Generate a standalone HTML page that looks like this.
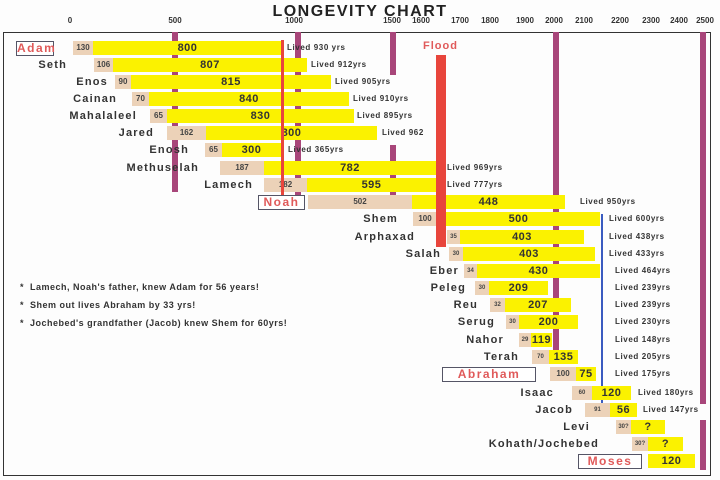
<!DOCTYPE html>
<html><head><style>
body{margin:0;background:#fff;}
#c{position:relative;width:720px;height:480px;overflow:hidden;font-family:"Liberation Sans",sans-serif;background:#fdfdfd;}
.a{position:absolute;}
.t{position:absolute;height:14px;background:#ecd2b8;font-size:8px;font-weight:bold;color:#444;line-height:14px;text-align:center;}
.y{position:absolute;height:14px;background:#fbf200;font-size:11px;font-weight:bold;color:#333;line-height:14px;text-align:center;letter-spacing:.5px;}
.n{position:absolute;font-size:11px;font-weight:bold;color:#333;letter-spacing:1.2px;text-align:right;width:200px;line-height:14px;}
.l{position:absolute;font-size:8px;font-weight:bold;color:#333;letter-spacing:.6px;line-height:14px;white-space:nowrap;}
.v{position:absolute;background:#a8467a;width:6px;}
.x{position:absolute;top:16px;font-size:8px;font-weight:bold;color:#333;transform:translateX(-50%);}
.b{position:absolute;border:1.5px solid #556;height:13px;color:#e05a5a;font-weight:bold;font-size:12px;letter-spacing:1.5px;line-height:13px;text-align:center;background:#fff;}
.nt{position:absolute;left:20px;font-size:9px;font-weight:bold;color:#333;letter-spacing:.5px;}
</style></head><body><div id="c">
<div class="a" style="left:0;top:3px;width:720px;text-align:center;font-size:16px;font-weight:bold;letter-spacing:1.5px;color:#222;">LONGEVITY CHART</div>
<div class="x" style="left:70px">0</div><div class="x" style="left:175px">500</div><div class="x" style="left:294px">1000</div><div class="x" style="left:392px">1500</div><div class="x" style="left:421px">1600</div><div class="x" style="left:460px">1700</div><div class="x" style="left:490px">1800</div><div class="x" style="left:525px">1900</div><div class="x" style="left:554px">2000</div><div class="x" style="left:584px">2100</div><div class="x" style="left:620px">2200</div><div class="x" style="left:651px">2300</div><div class="x" style="left:679px">2400</div><div class="x" style="left:705px">2500</div>
<div class="a" style="left:3px;top:32px;width:706px;height:442px;border:1.5px solid #333;"></div>
<div class="v" style="left:172px;top:32px;height:160px"></div>
<div class="v" style="left:295px;top:32px;height:165px"></div>
<div class="v" style="left:390px;top:32px;height:43px"></div>
<div class="v" style="left:390px;top:145px;height:55px"></div>
<div class="v" style="left:553px;top:32px;height:325px"></div>
<div class="v" style="left:700px;top:32px;height:372px"></div>
<div class="v" style="left:700px;top:420px;height:50px"></div>
<div class="a" style="left:601px;top:214px;width:2px;height:192px;background:#3a5bc0"></div>
<div class="a" style="left:423px;top:40px;font-size:11px;font-weight:bold;color:#e05a5a;letter-spacing:1px">Flood</div>

<div class="b" style="left:16px;top:41px;width:36px">Adam</div><div class="t" style="left:73px;top:41px;width:20px">130</div><div class="y" style="left:93px;top:41px;width:189px">800</div><div class="l" style="left:287px;top:41px">Lived 930 yrs</div>
<div class="n" style="left:-133px;top:58px">Seth</div><div class="t" style="left:94px;top:58px;width:19px">106</div><div class="y" style="left:113px;top:58px;width:194px">807</div><div class="l" style="left:311px;top:58px">Lived 912yrs</div>
<div class="n" style="left:-92px;top:75px">Enos</div><div class="t" style="left:115px;top:75px;width:16px">90</div><div class="y" style="left:131px;top:75px;width:200px">815</div><div class="l" style="left:335px;top:75px">Lived 905yrs</div>
<div class="n" style="left:-83px;top:92px">Cainan</div><div class="t" style="left:132px;top:92px;width:17px">70</div><div class="y" style="left:149px;top:92px;width:200px">840</div><div class="l" style="left:353px;top:92px">Lived 910yrs</div>
<div class="n" style="left:-63px;top:109px">Mahalaleel</div><div class="t" style="left:150px;top:109px;width:17px">65</div><div class="y" style="left:167px;top:109px;width:187px">830</div><div class="l" style="left:357px;top:109px">Lived 895yrs</div>
<div class="n" style="left:-46px;top:126px">Jared</div><div class="t" style="left:167px;top:126px;width:39px">162</div><div class="y" style="left:206px;top:126px;width:171px">800</div><div class="l" style="left:382px;top:126px">Lived 962</div>
<div class="n" style="left:-11px;top:143px">Enosh</div><div class="t" style="left:205px;top:143px;width:17px">65</div><div class="y" style="left:222px;top:143px;width:59px">300</div><div class="l" style="left:288px;top:143px">Lived 365yrs</div>
<div class="n" style="left:-1px;top:161px">Methuselah</div><div class="t" style="left:220px;top:161px;width:44px">187</div><div class="y" style="left:264px;top:161px;width:172px">782</div><div class="l" style="left:447px;top:161px">Lived 969yrs</div>
<div class="n" style="left:53px;top:178px">Lamech</div><div class="t" style="left:264px;top:178px;width:43px">182</div><div class="y" style="left:307px;top:178px;width:129px">595</div><div class="l" style="left:447px;top:178px">Lived 777yrs</div>
<div class="b" style="left:258px;top:195px;width:45px">Noah</div><div class="t" style="left:308px;top:195px;width:104px">502</div><div class="y" style="left:412px;top:195px;width:153px">448</div><div class="l" style="left:580px;top:195px">Lived 950yrs</div>
<div class="n" style="left:198px;top:212px">Shem</div><div class="t" style="left:413px;top:212px;width:24px">100</div><div class="y" style="left:437px;top:212px;width:163px">500</div><div class="l" style="left:609px;top:212px">Lived 600yrs</div>
<div class="n" style="left:215px;top:230px">Arphaxad</div><div class="t" style="left:447px;top:230px;width:13px;font-size:6px">35</div><div class="y" style="left:460px;top:230px;width:124px">403</div><div class="l" style="left:609px;top:230px">Lived 438yrs</div>
<div class="n" style="left:241px;top:247px">Salah</div><div class="t" style="left:449px;top:247px;width:14px;font-size:6px">30</div><div class="y" style="left:463px;top:247px;width:132px">403</div><div class="l" style="left:609px;top:247px">Lived 433yrs</div>
<div class="n" style="left:259px;top:264px">Eber</div><div class="t" style="left:464px;top:264px;width:13px;font-size:6px">34</div><div class="y" style="left:477px;top:264px;width:123px">430</div><div class="l" style="left:615px;top:264px">Lived 464yrs</div>
<div class="n" style="left:266px;top:281px">Peleg</div><div class="t" style="left:475px;top:281px;width:14px;font-size:6px">30</div><div class="y" style="left:489px;top:281px;width:59px">209</div><div class="l" style="left:615px;top:281px">Lived 239yrs</div>
<div class="n" style="left:278px;top:298px">Reu</div><div class="t" style="left:490px;top:298px;width:15px;font-size:6px">32</div><div class="y" style="left:505px;top:298px;width:66px">207</div><div class="l" style="left:615px;top:298px">Lived 239yrs</div>
<div class="n" style="left:295px;top:315px">Serug</div><div class="t" style="left:506px;top:315px;width:13px;font-size:6px">30</div><div class="y" style="left:519px;top:315px;width:59px">200</div><div class="l" style="left:615px;top:315px">Lived 230yrs</div>
<div class="n" style="left:304px;top:333px">Nahor</div><div class="t" style="left:519px;top:333px;width:12px;font-size:6px">29</div><div class="y" style="left:531px;top:333px;width:21px">119</div><div class="l" style="left:615px;top:333px">Lived 148yrs</div>
<div class="n" style="left:319px;top:350px">Terah</div><div class="t" style="left:532px;top:350px;width:17px;font-size:6px">70</div><div class="y" style="left:549px;top:350px;width:29px">135</div><div class="l" style="left:615px;top:350px">Lived 205yrs</div>
<div class="b" style="left:442px;top:367px;width:92px">Abraham</div><div class="t" style="left:550px;top:367px;width:26px">100</div><div class="y" style="left:576px;top:367px;width:20px">75</div><div class="l" style="left:615px;top:367px">Lived 175yrs</div>
<div class="n" style="left:354px;top:386px">Isaac</div><div class="t" style="left:572px;top:386px;width:20px;font-size:6px">60</div><div class="y" style="left:592px;top:386px;width:39px">120</div><div class="l" style="left:638px;top:386px">Lived 180yrs</div>
<div class="n" style="left:373px;top:403px">Jacob</div><div class="t" style="left:585px;top:403px;width:25px;font-size:6px">91</div><div class="y" style="left:610px;top:403px;width:27px">56</div><div class="l" style="left:643px;top:403px">Lived 147yrs</div>
<div class="n" style="left:390px;top:420px">Levi</div><div class="t" style="left:616px;top:420px;width:15px;font-size:6px">30?</div><div class="y" style="left:631px;top:420px;width:34px">?</div>
<div class="n" style="left:399px;top:437px">Kohath/Jochebed</div><div class="t" style="left:632px;top:437px;width:16px;font-size:6px">30?</div><div class="y" style="left:648px;top:437px;width:35px">?</div>
<div class="b" style="left:578px;top:454px;width:62px">Moses</div><div class="y" style="left:648px;top:454px;width:47px">120</div>

<div class="a" style="left:281px;top:40px;width:3px;height:155px;background:#e8453c"></div>
<div class="a" style="left:436px;top:55px;width:10px;height:192px;background:#e8453c"></div>

<div class="nt" style="top:282px">*&nbsp; Lamech, Noah's father, knew Adam for 56 years!</div>
<div class="nt" style="top:300px">*&nbsp; Shem out lives Abraham by 33 yrs!</div>
<div class="nt" style="top:318px">*&nbsp; Jochebed's grandfather (Jacob) knew Shem for 60yrs!</div>
</div></body></html>
